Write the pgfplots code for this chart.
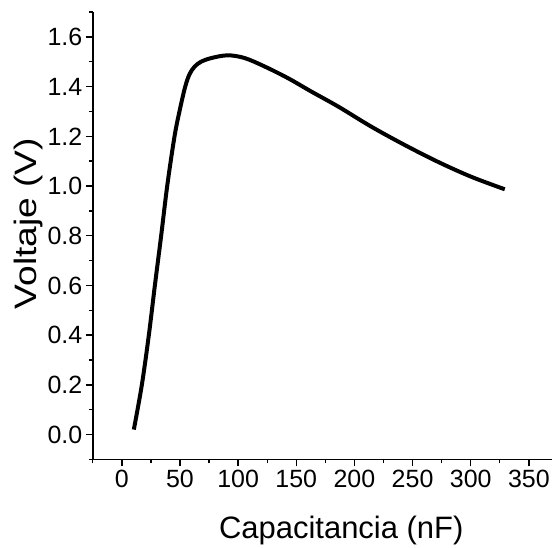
\documentclass[border=0pt]{standalone}
\usepackage{pgfplots}
\pgfplotsset{compat=1.18}
\usepackage{fontspec}
\setmainfont{Liberation Sans}

\begin{document}
\begin{tikzpicture}
\begin{axis}[
    scale only axis,
    width=460pt, height=448pt,
    clip=false,
    xmin=-25, xmax=370,
    ymin=-0.1, ymax=1.7,
    axis x line=bottom, axis y line=left,
    axis line style={-, line width=1.6pt},
    tick align=outside,
    major tick length=7pt, minor tick length=4pt,
    every tick/.style={black, line width=1.4pt},
    xtick={0,50,...,350},
    minor xtick={-25,25,75,...,350},
    ytick={0,0.2,...,1.6},
    minor ytick={-0.1,0.1,0.3,...,1.7},
    yticklabel style={/pgf/number format/.cd, fixed, fixed zerofill, precision=1},
    /pgf/number format/assume math mode=true,
    tick label style={font=\fontsize{25}{29}\selectfont},
    label style={font=\fontsize{31}{36}\selectfont},
    xlabel={Capacitancia (nF)},
    ylabel={\scalebox{1.2}[1]{Voltaje (V)}},
    xlabel style={at={(rel axis cs:0.541,-0.158)}, anchor=center},
    ylabel style={at={(rel axis cs:-0.141,0.527)}, anchor=center},
]
\addplot[black, line width=4pt, smooth, tension=0.55] coordinates {
    (10.3,0.02) (17.2,0.2) (23.2,0.4) (28.4,0.6) (33.8,0.8) (39,1.0)
    (45.3,1.2) (50,1.31) (54.5,1.4) (58.2,1.45) (62.5,1.48) (68,1.50)
    (77,1.515) (91,1.526) (105.6,1.515) (122.8,1.481) (142.9,1.434)
    (163,1.38) (186,1.32) (214.5,1.239) (243.3,1.165) (272,1.097)
    (300.6,1.037) (329.3,0.987)
};
\path (rel axis cs:-0.202,-0.194) rectangle (rel axis cs:1,1.027);
\end{axis}
\end{tikzpicture}
\end{document}
